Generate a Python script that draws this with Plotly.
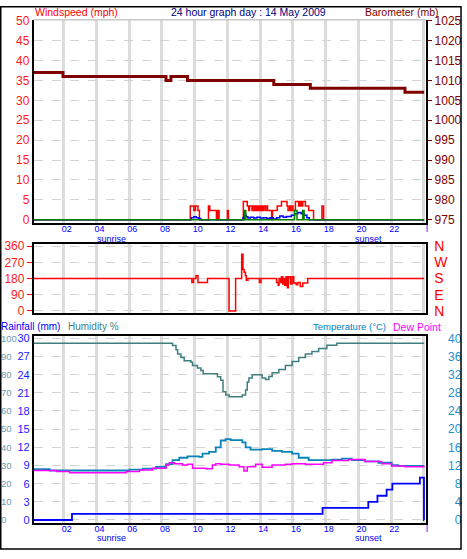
import plotly.graph_objects as go

W, H = 467, 559
FONT = "Liberation Sans, Arial, sans-serif"

# ---------------- data ----------------
hour_ticks = [2, 4, 6, 8, 10, 12, 14, 16, 18, 20, 22, 24]
hour_labels = ["02", "04", "06", "08", "10", "12", "14", "16", "18", "20", "22", "l"]
sunrise_h = 4.95
sunset_h = 20.64

baro_t = [0.18, 1.96, 8.25, 8.55, 9.56, 14.83, 17.06, 22.84, 24.01]
baro_v = [1012, 1011, 1010, 1011, 1010, 1009, 1008, 1007, 1007]

gust_t = [0.18, 9.73, 9.95, 10.05, 10.2, 10.29, 10.84, 10.92, 11.33, 11.41, 11.49,
          12.0, 12.06, 12.97, 13.21, 13.3, 13.35, 13.5, 13.55, 13.65, 13.7, 13.75,
          13.8, 13.85, 13.9, 13.95, 14.0, 14.05, 14.1, 14.15, 14.2, 14.3, 14.35,
          14.45, 14.7, 14.75, 15.04, 15.3, 15.64, 15.7, 15.8, 15.85, 15.95, 16.0,
          16.15, 16.35, 16.4, 16.45, 16.5, 16.55, 16.6, 16.76, 16.96, 17.26, 17.77,
          17.87, 24.01]
gust_v = [0, 3.45, 2.3, 3.45, 2.3, 0, 3.45, 2.3, 0, 2.3, 0,
          2.3, 0, 4.6, 3.45, 2.3, 3.45, 2.3, 3.45, 2.3, 3.45, 2.3,
          3.45, 2.3, 3.45, 2.3, 3.45, 2.3, 3.45, 2.3, 3.45, 2.3, 3.45,
          2.3, 0, 2.3, 3.45, 4.6, 3.45, 2.3, 3.45, 2.3, 3.45, 2.3,
          4.6, 3.45, 4.6, 3.45, 4.6, 3.45, 4.6, 3.45, 2.3, 0, 3.45,
          0, 0]

wind_t = [0.18, 9.8, 9.95, 10.1, 10.27, 10.38, 12.95, 13.0, 13.15, 13.25, 13.4, 13.6,
          13.8, 14.0, 14.2, 14.4, 14.6, 14.8, 15.0, 15.2, 15.4, 15.6, 15.9, 16.1,
          16.3, 16.5, 16.7, 16.85, 17.0, 24.01]
wind_v = [0, 0.5, 0.75, 0.5, 0.3, 0, 0.5, 1.15, 0.75, 0.4, 0.6, 0.4,
          0.6, 0.4, 0.5, 0.3, 0.5, 0.2, 0.5, 0.9, 0.6, 0.8, 1.15, 1.5,
          1.8, 1.5, 1.15, 0.5, 0, 0]

green_t = [0.18, 13.05, 13.12, 16.1, 16.25, 16.6, 16.68, 24.01]
green_v = [0, 2.3, 0, 2.3, 0, 2.3, 0, 0]

dir_t = [0.18, 9.83, 9.93, 10.08, 10.2, 10.78, 12.1, 12.5, 12.87, 12.95, 13.02, 13.1,
         13.15, 13.25, 13.95, 14.05, 15.0, 15.1, 15.15, 15.25, 15.3, 15.38, 15.45,
         15.5, 15.58, 15.66, 15.72, 15.85, 15.95, 16.05, 16.2, 16.3, 16.45, 16.6,
         16.9, 24.01]
dir_v = [180, 158, 180, 195, 158, 180, 0, 180, 315, 230, 215, 195,
         170, 180, 158, 180, 158, 142, 180, 158, 190, 150, 180,
         142, 190, 129, 190, 150, 190, 155, 145, 158, 135, 155,
         180, 180]
dir_ticks = [0, 90, 180, 270, 360]
dir_letters = ["N", "E", "S", "W", "N"]

hum_t = [0.18, 8.65, 8.86, 8.96, 9.16, 9.36, 9.77, 9.87, 10.17, 10.38, 10.52, 11.29,
         11.39, 11.59, 11.73, 11.9, 12.1, 12.81, 12.91, 13.11, 13.21, 13.31, 13.51,
         13.92, 14.12, 14.33, 14.53, 14.73, 15.14, 15.54, 15.95, 16.35, 16.76, 17.16,
         17.57, 18.07, 18.68, 24.01]
hum_v = [97.3, 96, 93.7, 91.4, 89.5, 87.7, 86.8, 85, 83.6, 82.3, 80.5, 80.5,
         78.8, 76.9, 70.6, 68.8, 67.9, 67.9, 68.8, 71.5, 76, 78.2, 80,
         80, 78.2, 77.3, 79, 81, 82.9, 85, 87.2, 89.5, 91.4, 92.8,
         94.4, 96.2, 97.3, 97.3]

temp_t = [0.18, 1.15, 6.02, 6.83, 7.64, 8.25, 8.65, 9.06, 9.56, 10.27, 10.48, 10.88,
          11.29, 11.59, 11.89, 12.2, 12.91, 13.11, 13.41, 14.12, 14.73, 15.34, 15.95,
          16.35, 16.96, 18.38, 18.99, 19.59, 20.4, 21.22, 22.03, 22.43, 24.01]
temp_v = [11.2, 10.9, 11.1, 11.3, 11.7, 12.3, 13.2, 13.7, 14.0, 13.9, 14.6, 15.0,
          16.0, 17.5, 17.8, 17.6, 17.1, 16.0, 15.5, 15.6, 15.2, 15.0, 14.6,
          13.7, 13.2, 13.3, 13.5, 13.2, 12.9, 12.6, 12.1, 11.9, 11.9]

dew_t = [0.18, 1.56, 2.37, 5.82, 6.63, 7.44, 8.25, 8.45, 8.75, 9.26, 9.56, 9.87,
         10.68, 11.08, 11.29, 11.59, 12.1, 12.71, 13.01, 13.21, 13.72, 14.12, 14.73,
         15.54, 15.95, 16.76, 17.87, 18.38, 19.39, 20.4, 21.42, 22.03, 22.84, 24.01]
dew_v = [10.9, 10.7, 10.4, 10.7, 11.0, 11.4, 12.1, 12.6, 12.4, 12.1, 12.3, 11.4,
         11.3, 12.1, 12.4, 12.3, 12.1, 11.7, 10.8, 11.7, 12.3, 11.6, 12.1,
         12.3, 12.4, 12.3, 12.6, 13.1, 13.3, 12.9, 12.4, 11.9, 11.7, 11.6]

rain_t = [0.18, 2.51, 17.81, 20.6, 21.16, 21.72, 22.07, 23.75, 24.0, 24.01]
rain_v = [0, 1.0, 2.0, 3.0, 4.0, 5.0, 6.0, 7.0, 0, 0]

wind_ticks = list(range(0, 51, 5))
baro_ticks = list(range(975, 1026, 5))
rain_ticks = list(range(0, 31, 3))
hum_ticks = list(range(0, 101, 10))
temp_ticks = list(range(0, 41, 4))
temp_labels = [f"{v:>2}".replace(" ", "\u2007") for v in temp_ticks]

# ---------------- geometry helpers ----------------
def px(x):
    return x / W

def py(y):
    return 1 - y / H

XDOM = [px(34), px(428)]
XRANGE = [0.182, 24.134]
DIR_RANGE = [-13.6, 372.5]

fig = go.Figure()

def line(x, y, xa, ya, color, width, shape="hv"):
    fig.add_trace(go.Scatter(x=x, y=y, mode="lines", line=dict(color=color, width=width, shape=shape),
                             xaxis=xa, yaxis=ya, hoverinfo="skip"))

# top panel
line(gust_t, gust_v, "x", "y", "#ff0000", 1.5)
line(wind_t, wind_v, "x", "y", "#0000ff", 1.5)
line(green_t, green_v, "x", "y", "#008000", 1.5)
line(baro_t, baro_v, "x", "y2", "#800000", 3)
# middle
line(dir_t, dir_v, "x2", "y3", "#ff0000", 1.5)
line(dir_t, dir_v, "x2", "y7", "rgba(0,0,0,0)", 0.5)   # carries the compass-letter axis
# bottom
line(hum_t, hum_v, "x3", "y5", "#3f7f7f", 1.5)
line(temp_t, temp_v, "x3", "y6", "#0a84b8", 1.8)
line(dew_t, dew_v, "x3", "y6", "#ff00ff", 1.5)
line(rain_t, rain_v, "x3", "y4", "#0000ff", 1.8)

xcommon = dict(range=XRANGE, domain=XDOM, tickvals=hour_ticks, ticktext=hour_labels,
               showgrid=True, gridcolor="#dcdcdc", gridwidth=3, zeroline=False,
               showline=True, linecolor="black", linewidth=2, ticks="",
               tickfont=dict(family=FONT, size=9, color="#0000ff"), ticklabelshift=3,
               ticklabelstandoff=-3)
ygrid = dict(showgrid=True, gridcolor="#d4d4d4", gridwidth=1, griddash="dash", zeroline=False)

fig.update_layout(
    width=W, height=H, margin=dict(l=0, r=0, t=0, b=0),
    paper_bgcolor="white", plot_bgcolor="white", showlegend=False,
    font=dict(family=FONT, size=11),
    xaxis=dict(**xcommon, anchor="y"),
    xaxis2=dict(**{**xcommon, "showticklabels": False}, anchor="y3", mirror=True),
    xaxis3=dict(**xcommon, anchor="y4", mirror=True),
    yaxis=dict(domain=[py(221), py(14)], range=[-0.739, 50.246], tickvals=wind_ticks,
               showline=True, linecolor="black", linewidth=2, ticks="",
               tickfont=dict(family=FONT, size=12, color="#ff1a1a"), anchor="x", **ygrid),
    yaxis2=dict(overlaying="y", side="right", anchor="x", range=[974.261, 1025.246], tickvals=baro_ticks,
                showgrid=False, zeroline=False, showline=True, linecolor="black", linewidth=2,
                ticks="outside", ticklen=4, tickcolor="#800000", tickwidth=1,
                tickfont=dict(family=FONT, size=12, color="#800000")),
    yaxis3=dict(domain=[py(313.5), py(242.7)], range=DIR_RANGE, tickvals=dir_ticks,
                showline=True, mirror=True, linecolor="black", linewidth=2,
                ticks="outside", ticklen=5, tickcolor="#ff0000", tickwidth=1,
                tickfont=dict(family=FONT, size=12, color="#ff1a1a"), anchor="x2", **ygrid),
    yaxis7=dict(overlaying="y3", side="right", anchor="x2", range=DIR_RANGE, tickvals=dir_ticks,
                ticktext=dir_letters, showgrid=False, zeroline=False, ticks="",
                tickfont=dict(family=FONT, size=14, color="#ff0000"), ticklabelstandoff=7),
    yaxis4=dict(domain=[py(527), py(337)], range=[-0.437, 30.324], tickvals=rain_ticks,
                showline=True, mirror=True, linecolor="black", linewidth=2, ticks="",
                tickfont=dict(family=FONT, size=11, color="#1a1aff"), anchor="x3", **ygrid),
    yaxis5=dict(overlaying="y4", side="right", anchor="free", position=0, range=[-1.457, 101.08],
                tickvals=hum_ticks, showgrid=False, zeroline=False, ticks="",
                tickfont=dict(family=FONT, size=9.5, color="#6a9cb4")),
    yaxis6=dict(overlaying="y4", side="right", anchor="free", position=px(449), range=[-0.583, 40.432],
                tickvals=temp_ticks, ticktext=temp_labels, showgrid=False, zeroline=False, ticks="",
                tickfont=dict(family=FONT, size=12, color="#1e8fd0")),
)

def label(text, x, y, color, size=10.5, xanchor="left", xref="paper"):
    fig.add_annotation(text=text, x=x, y=y, xref=xref, yref="paper", xanchor=xanchor, yanchor="middle",
                       showarrow=False, font=dict(family=FONT, size=size, color=color))

label("Windspeed (mph)", px(33), py(6), "#ff0000")
label("24 hour graph day : 14 May 2009", px(250), py(6), "#000080", xanchor="center")
label("Barometer (mb)", px(443), py(6), "#800000", xanchor="right")
label("Rainfall (mm)", px(-1), py(327), "#0000ff", size=10)
label("Humidity %", px(66), py(327), "#408080", size=10)
label("Temperature (\u00b0C)", px(312), py(327), "#0080c0", size=9.5)
label("Dew Point", px(393), py(327), "#ff00ff", size=10.5)
label("sunrise", sunrise_h, py(238), "#0000ff", size=9, xanchor="center", xref="x")
label("sunset", sunset_h, py(238), "#0000ff", size=9, xanchor="center", xref="x")
label("sunrise", sunrise_h, py(543), "#0000ff", size=9, xanchor="center", xref="x3")
label("sunset", sunset_h, py(543), "#0000ff", size=9, xanchor="center", xref="x3")

# panel top edge (light) and outer frame
fig.add_shape(type="line", xref="x domain", yref="y domain", x0=0, x1=1, y0=1, y1=1,
              line=dict(color="#c8c8c8", width=1.5))
fig.add_shape(type="rect", xref="paper", yref="paper", x0=px(0.75), x1=px(463), y0=py(554), y1=py(0.75),
              line=dict(color="black", width=1.5), layer="above")

fig.write_html("out.html", config={"displayModeBar": False},
               post_script="document.body.style.margin='0';document.body.style.overflow='hidden';")
